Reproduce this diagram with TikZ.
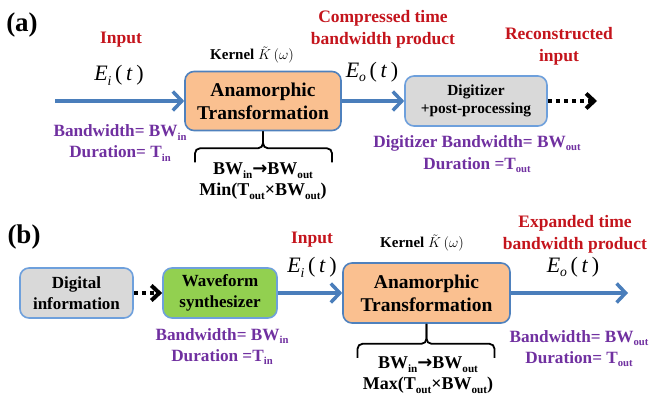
\documentclass[tikz,border=0pt]{standalone}
\usepackage{fontspec}
\usepackage{graphicx}
\setmainfont{Liberation Serif}
\newfontfamily\djv{DejaVu Sans}
\usetikzlibrary{arrows.meta,calc}
\definecolor{redc}{RGB}{196,20,28}
\definecolor{purc}{RGB}{112,48,160}
\definecolor{arrb}{RGB}{74,126,187}
\definecolor{darkb}{RGB}{79,129,189}
\definecolor{lightb}{RGB}{110,160,220}
\definecolor{orangef}{RGB}{250,192,144}
\definecolor{grayf}{RGB}{217,217,217}
\definecolor{greenf}{RGB}{146,208,80}
\newcommand\fs[2]{\fontsize{#1}{#2}\selectfont}
\newcommand\lo[1]{\raisebox{-0.22em}{\scalebox{0.62}{#1}}}
\newcommand\Ef[1]{\fs{22}{24}\textit{E}\lo{\textit{#1}}\,(\,\textit{t}\,)}
\newcommand\Kern{Kernel \ensuremath{\tilde{K}\,(\omega)}}
\newcommand\harr{{\djv\bfseries →}}
\tikzset{
  every node/.style={inner sep=1pt},
  redlbl/.style={text=redc, font=\bfseries\fs{17.5}{22}, align=center},
  purlbl/.style={text=purc, font=\bfseries\fs{17.2}{21}, align=center},
  blklbl/.style={font=\bfseries\fs{18}{21}, align=center},
  kernlbl/.style={font=\bfseries\fs{15}{17}},
  box/.style={line width=1.6pt, rounded corners=9pt, align=center, inner sep=0pt},
  flow/.style={draw=arrb, line width=3.5pt, -{Straight Barb[length=9pt,width=19pt]}},
  dotflow/.style={draw=black, line width=4pt, dash pattern=on 4pt off 4pt, -{Straight Barb[length=8pt,width=15pt]}},
  bracesty/.style={line width=1.8pt, rounded corners=5pt},
}
\begin{document}
\begin{tikzpicture}[x=1pt,y=1pt]
\useasboundingbox (0,0) rectangle (650,-395);
% ---------- panel (a)
\node[font=\bfseries\fs{27}{30}] (la) at (22,-25) {(a)};
\node[box, fill=orangef, draw=darkb, minimum width=156pt, minimum height=59pt, font=\bfseries\fs{19.5}{23}] (anA) at (263,-101) {Anamorphic\\Transformation};
\node[box, fill=grayf, draw=lightb, minimum width=142pt, minimum height=50pt, font=\bfseries\fs{15.4}{18}] (dig) at (476,-101) {Digitizer\\+post-processing};
\coordinate (inA) at (55,-101);
\coordinate (outA) at (597,-101);
\draw[flow] (inA) -- (anA);
\draw[flow] (anA) -- (dig);
\draw[dotflow] (dig) -- (outA);
\node[redlbl] (inpA) at (121,-40) {Input};
\node (eiA) at (119,-75) {\Ef{i}};
\node[purlbl] (bwA) at (120,-143) {Bandwidth= BW\lo{in}\\Duration= T\lo{in}};
\node[kernlbl] (kA) at (252,-55) {\Kern};
\node[redlbl] (cmpA) at (383,-29) {Compressed time\\bandwidth product};
\node (eoA) at (372,-72) {\Ef{o}};
\node[redlbl] (recA) at (559,-46) {Reconstructed\\input};
\node[purlbl, font=\bfseries\fs{17.2}{22}] (dbwA) at (477,-154) {Digitizer Bandwidth= BW\lo{out}\\Duration =T\lo{out}};
\draw[bracesty] ($(anA.south)+(-68,-31)$) |- ($(anA.south)+(0,-17)$) -- (anA.south);
\draw[bracesty] ($(anA.south)+(69,-31)$) |- ($(anA.south)+(0,-17)$) -- (anA.south);
\node[blklbl] (trA) at (263,-181) {BW\lo{in}\harr BW\lo{out}\\Min(T\lo{out}×BW\lo{out})};
% ---------- panel (b)
\node[font=\bfseries\fs{27}{30}] (lb) at (24,-237) {(b)};
\node[box, fill=grayf, draw=lightb, minimum width=113pt, minimum height=50pt, font=\bfseries\fs{17}{21}] (dinf) at (76.5,-293) {Digital\\information};
\node[box, fill=greenf, draw=lightb, minimum width=114pt, minimum height=50pt, font=\bfseries\fs{17}{21}] (wav) at (220,-293) {Waveform\\synthesizer};
\node[box, fill=orangef, draw=darkb, minimum width=167pt, minimum height=60pt, font=\bfseries\fs{19.5}{23}] (anB) at (426.5,-293) {Anamorphic\\Transformation};
\coordinate (outB) at (628,-293);
\draw[dotflow] (dinf) -- (wav);
\draw[flow] (wav) -- (anB);
\draw[flow] (anB) -- (outB);
\node[redlbl] (inpB) at (312,-240) {Input};
\node (eiB) at (312,-267) {\Ef{i}};
\node[kernlbl] (kB) at (422,-243) {\Kern};
\node[redlbl] (expB) at (575,-234.5) {Expanded time\\bandwidth product};
\node (eoB) at (573,-267) {\Ef{o}};
\node[purlbl] (bwB) at (222,-346.5) {Bandwidth= BW\lo{in}\\Duration =T\lo{in}};
\node[purlbl] (bwoB) at (579,-348.5) {Bandwidth= BW\lo{out}\\Duration= T\lo{out}};
\draw[bracesty] ($(anB.south)+(-69,-34)$) |- ($(anB.south)+(0,-20)$) -- (anB.south);
\draw[bracesty] ($(anB.south)+(68,-34)$) |- ($(anB.south)+(0,-20)$) -- (anB.south);
\node[blklbl] (trB) at (428,-375.5) {BW\lo{in}\harr BW\lo{out}\\Max(T\lo{out}×BW\lo{out})};
\end{tikzpicture}
\end{document}
